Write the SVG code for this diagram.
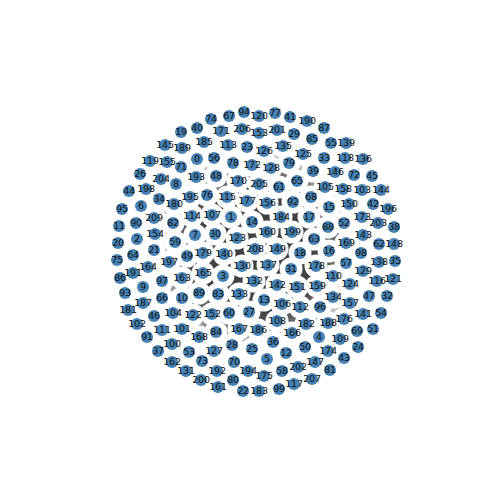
<svg xmlns="http://www.w3.org/2000/svg" width="500" height="500" viewBox="0 0 500 500">
<style>
.halo{fill:#fff}
.node circle{fill:#4682b4}
.node text{font-family:"DejaVu Sans",sans-serif;font-size:9.5px;fill:#111;text-anchor:middle;letter-spacing:-0.2px}
.edge{stroke:#505050;stroke-width:1;fill:none}
</style>
<defs>
<radialGradient id="mass" cx="256" cy="252" r="112" gradientUnits="userSpaceOnUse">
<stop offset="0" stop-color="#3e3e3e"/>
<stop offset="0.55" stop-color="#434343"/>
<stop offset="0.76" stop-color="#7a7a7a"/>
<stop offset="0.9" stop-color="#dcdcdc"/>
<stop offset="1" stop-color="#fff"/>
</radialGradient>
</defs>
<rect width="500" height="500" fill="#fff"/>
<g id="connectors">
<circle cx="256" cy="252" r="112" fill="url(#mass)"/>
<line class="edge" x1="146" y1="189" x2="174" y2="204"/>
<line class="edge" x1="161" y1="179" x2="176" y2="184"/>
<line class="edge" x1="182" y1="148" x2="204" y2="142"/>
<line class="edge" x1="196" y1="177" x2="216" y2="176"/>
<line class="edge" x1="306" y1="324" x2="328" y2="323"/>
<line class="edge" x1="328" y1="323" x2="344" y2="319"/>
<line class="edge" x1="319" y1="337" x2="328" y2="351"/>
<line class="edge" x1="182" y1="329" x2="199" y2="337"/>
<line class="edge" x1="172" y1="344" x2="189" y2="352"/>
<line class="edge" x1="333" y1="297" x2="350" y2="303"/>
<line class="edge" x1="303" y1="154" x2="324" y2="158"/>
<line class="edge" x1="335" y1="172" x2="345" y2="158"/>
<line class="edge" x1="228" y1="145" x2="247" y2="147"/>
<line class="edge" x1="189" y1="352" x2="202" y2="361"/>
</g>
<g id="halos">
<circle class="halo" cx="197" cy="159" r="11.5"/><circle class="halo" cx="231" cy="217" r="11.5"/><circle class="halo" cx="137" cy="239" r="11.5"/><circle class="halo" cx="223" cy="276" r="11.5"/><circle class="halo" cx="319" cy="337" r="11.5"/><circle class="halo" cx="267" cy="359" r="11.5"/><circle class="halo" cx="141" cy="206" r="11.5"/><circle class="halo" cx="195" cy="235" r="11.5"/><circle class="halo" cx="176" cy="184" r="11.5"/><circle class="halo" cx="143" cy="287" r="11.5"/>
<circle class="halo" cx="182" cy="298" r="11.5"/><circle class="halo" cx="119" cy="226" r="11.5"/><circle class="halo" cx="286" cy="353" r="11.5"/><circle class="halo" cx="264" cy="300" r="11.5"/><circle class="halo" cx="252" cy="222" r="11.5"/><circle class="halo" cx="329" cy="207" r="11.5"/><circle class="halo" cx="329" cy="251" r="11.5"/><circle class="halo" cx="309" cy="217" r="11.5"/><circle class="halo" cx="300" cy="253" r="11.5"/><circle class="halo" cx="181" cy="132" r="11.5"/>
<circle class="halo" cx="118" cy="243" r="11.5"/><circle class="halo" cx="154" cy="250" r="11.5"/><circle class="halo" cx="243" cy="391" r="11.5"/><circle class="halo" cx="247" cy="147" r="11.5"/><circle class="halo" cx="358" cy="347" r="11.5"/><circle class="halo" cx="252" cy="349" r="11.5"/><circle class="halo" cx="140" cy="174" r="11.5"/><circle class="halo" cx="249" cy="312" r="11.5"/><circle class="halo" cx="232" cy="345" r="11.5"/><circle class="halo" cx="294" cy="134" r="11.5"/>
<circle class="halo" cx="215" cy="234" r="11.5"/><circle class="halo" cx="291" cy="269" r="11.5"/><circle class="halo" cx="387" cy="296" r="11.5"/><circle class="halo" cx="324" cy="158" r="11.5"/><circle class="halo" cx="159" cy="199" r="11.5"/><circle class="halo" cx="395" cy="261" r="11.5"/><circle class="halo" cx="273" cy="342" r="11.5"/><circle class="halo" cx="158" cy="351" r="11.5"/><circle class="halo" cx="394" cy="227" r="11.5"/><circle class="halo" cx="313" cy="171" r="11.5"/>
<circle class="halo" cx="197" cy="128" r="11.5"/><circle class="halo" cx="290" cy="117" r="11.5"/><circle class="halo" cx="373" cy="204" r="11.5"/><circle class="halo" cx="344" cy="358" r="11.5"/><circle class="halo" cx="129" cy="191" r="11.5"/><circle class="halo" cx="372" cy="176" r="11.5"/><circle class="halo" cx="154" cy="316" r="11.5"/><circle class="halo" cx="369" cy="296" r="11.5"/><circle class="halo" cx="216" cy="176" r="11.5"/><circle class="halo" cx="187" cy="256" r="11.5"/>
<circle class="halo" cx="305" cy="347" r="11.5"/><circle class="halo" cx="373" cy="329" r="11.5"/><circle class="halo" cx="344" cy="223" r="11.5"/><circle class="halo" cx="189" cy="352" r="11.5"/><circle class="halo" cx="381" cy="313" r="11.5"/><circle class="halo" cx="331" cy="143" r="11.5"/><circle class="halo" cx="214" cy="158" r="11.5"/><circle class="halo" cx="346" cy="263" r="11.5"/><circle class="halo" cx="282" cy="371" r="11.5"/><circle class="halo" cx="175" cy="242" r="11.5"/>
<circle class="halo" cx="229" cy="313" r="11.5"/><circle class="halo" cx="279" cy="187" r="11.5"/><circle class="halo" cx="379" cy="244" r="11.5"/><circle class="halo" cx="314" cy="239" r="11.5"/><circle class="halo" cx="133" cy="255" r="11.5"/><circle class="halo" cx="297" cy="181" r="11.5"/><circle class="halo" cx="162" cy="298" r="11.5"/><circle class="halo" cx="229" cy="116" r="11.5"/><circle class="halo" cx="311" cy="197" r="11.5"/><circle class="halo" cx="357" cy="331" r="11.5"/>
<circle class="halo" cx="234" cy="362" r="11.5"/><circle class="halo" cx="181" cy="167" r="11.5"/><circle class="halo" cx="354" cy="175" r="11.5"/><circle class="halo" cx="202" cy="361" r="11.5"/><circle class="halo" cx="211" cy="119" r="11.5"/><circle class="halo" cx="117" cy="260" r="11.5"/><circle class="halo" cx="207" cy="195" r="11.5"/><circle class="halo" cx="275" cy="113" r="11.5"/><circle class="halo" cx="233" cy="163" r="11.5"/><circle class="halo" cx="289" cy="163" r="11.5"/>
<circle class="halo" cx="233" cy="380" r="11.5"/><circle class="halo" cx="330" cy="370" r="11.5"/><circle class="halo" cx="173" cy="223" r="11.5"/><circle class="halo" cx="218" cy="294" r="11.5"/><circle class="halo" cx="216" cy="332" r="11.5"/><circle class="halo" cx="312" cy="139" r="11.5"/><circle class="halo" cx="120" cy="278" r="11.5"/><circle class="halo" cx="324" cy="128" r="11.5"/><circle class="halo" cx="328" cy="227" r="11.5"/><circle class="halo" cx="199" cy="293" r="11.5"/>
<circle class="halo" cx="136" cy="223" r="11.5"/><circle class="halo" cx="147" cy="337" r="11.5"/><circle class="halo" cx="293" cy="202" r="11.5"/><circle class="halo" cx="125" cy="293" r="11.5"/><circle class="halo" cx="244" cy="112" r="11.5"/><circle class="halo" cx="122" cy="209" r="11.5"/><circle class="halo" cx="320" cy="307" r="11.5"/><circle class="halo" cx="162" cy="281" r="11.5"/><circle class="halo" cx="361" cy="253" r="11.5"/><circle class="halo" cx="279" cy="389" r="11.5"/>
<circle class="halo" cx="172" cy="344" r="11.5"/><circle class="halo" cx="182" cy="329" r="11.5"/><circle class="halo" cx="137" cy="324" r="11.5"/><circle class="halo" cx="362" cy="190" r="11.5"/><circle class="halo" cx="173" cy="313" r="11.5"/><circle class="halo" cx="325" cy="187" r="11.5"/><circle class="halo" cx="282" cy="304" r="11.5"/><circle class="halo" cx="212" cy="215" r="11.5"/><circle class="halo" cx="277" cy="321" r="11.5"/><circle class="halo" cx="340" cy="339" r="11.5"/>
<circle class="halo" cx="333" cy="276" r="11.5"/><circle class="halo" cx="162" cy="330" r="11.5"/><circle class="halo" cx="300" cy="307" r="11.5"/><circle class="halo" cx="228" cy="145" r="11.5"/><circle class="halo" cx="192" cy="216" r="11.5"/><circle class="halo" cx="227" cy="197" r="11.5"/><circle class="halo" cx="377" cy="281" r="11.5"/><circle class="halo" cx="294" cy="384" r="11.5"/><circle class="halo" cx="345" cy="158" r="11.5"/><circle class="halo" cx="150" cy="161" r="11.5"/>
<circle class="halo" cx="259" cy="116" r="11.5"/><circle class="halo" cx="393" cy="279" r="11.5"/><circle class="halo" cx="193" cy="315" r="11.5"/><circle class="halo" cx="237" cy="238" r="11.5"/><circle class="halo" cx="350" cy="284" r="11.5"/><circle class="halo" cx="303" cy="154" r="11.5"/><circle class="halo" cx="264" cy="151" r="11.5"/><circle class="halo" cx="214" cy="351" r="11.5"/><circle class="halo" cx="271" cy="168" r="11.5"/><circle class="halo" cx="363" cy="271" r="11.5"/>
<circle class="halo" cx="242" cy="266" r="11.5"/><circle class="halo" cx="186" cy="371" r="11.5"/><circle class="halo" cx="254" cy="281" r="11.5"/><circle class="halo" cx="239" cy="294" r="11.5"/><circle class="halo" cx="333" cy="297" r="11.5"/><circle class="halo" cx="283" cy="146" r="11.5"/><circle class="halo" cx="363" cy="159" r="11.5"/><circle class="halo" cx="268" cy="265" r="11.5"/><circle class="halo" cx="379" cy="262" r="11.5"/><circle class="halo" cx="346" cy="143" r="11.5"/>
<circle class="halo" cx="224" cy="254" r="11.5"/><circle class="halo" cx="363" cy="314" r="11.5"/><circle class="halo" cx="277" cy="285" r="11.5"/><circle class="halo" cx="363" cy="235" r="11.5"/><circle class="halo" cx="381" cy="190" r="11.5"/><circle class="halo" cx="165" cy="145" r="11.5"/><circle class="halo" cx="335" cy="172" r="11.5"/><circle class="halo" cx="315" cy="362" r="11.5"/><circle class="halo" cx="394" cy="244" r="11.5"/><circle class="halo" cx="277" cy="249" r="11.5"/>
<circle class="halo" cx="349" cy="204" r="11.5"/><circle class="halo" cx="297" cy="287" r="11.5"/><circle class="halo" cx="212" cy="314" r="11.5"/><circle class="halo" cx="259" cy="133" r="11.5"/><circle class="halo" cx="155" cy="234" r="11.5"/><circle class="halo" cx="167" cy="162" r="11.5"/><circle class="halo" cx="267" cy="203" r="11.5"/><circle class="halo" cx="350" cy="303" r="11.5"/><circle class="halo" cx="343" cy="189" r="11.5"/><circle class="halo" cx="317" cy="286" r="11.5"/>
<circle class="halo" cx="267" cy="232" r="11.5"/><circle class="halo" cx="218" cy="387" r="11.5"/><circle class="halo" cx="172" cy="362" r="11.5"/><circle class="halo" cx="182" cy="278" r="11.5"/><circle class="halo" cx="148" cy="267" r="11.5"/><circle class="halo" cx="203" cy="273" r="11.5"/><circle class="halo" cx="292" cy="333" r="11.5"/><circle class="halo" cx="239" cy="329" r="11.5"/><circle class="halo" cx="199" cy="337" r="11.5"/><circle class="halo" cx="346" cy="243" r="11.5"/>
<circle class="halo" cx="238" cy="181" r="11.5"/><circle class="halo" cx="221" cy="131" r="11.5"/><circle class="halo" cx="252" cy="165" r="11.5"/><circle class="halo" cx="362" cy="217" r="11.5"/><circle class="halo" cx="328" cy="351" r="11.5"/><circle class="halo" cx="264" cy="376" r="11.5"/><circle class="halo" cx="344" cy="319" r="11.5"/><circle class="halo" cx="247" cy="201" r="11.5"/><circle class="halo" cx="316" cy="266" r="11.5"/><circle class="halo" cx="203" cy="253" r="11.5"/>
<circle class="halo" cx="174" cy="204" r="11.5"/><circle class="halo" cx="128" cy="310" r="11.5"/><circle class="halo" cx="306" cy="324" r="11.5"/><circle class="halo" cx="259" cy="391" r="11.5"/><circle class="halo" cx="281" cy="217" r="11.5"/><circle class="halo" cx="204" cy="142" r="11.5"/><circle class="halo" cx="258" cy="330" r="11.5"/><circle class="halo" cx="143" cy="303" r="11.5"/><circle class="halo" cx="328" cy="323" r="11.5"/><circle class="halo" cx="182" cy="148" r="11.5"/>
<circle class="halo" cx="307" cy="121" r="11.5"/><circle class="halo" cx="133" cy="273" r="11.5"/><circle class="halo" cx="217" cy="371" r="11.5"/><circle class="halo" cx="196" cy="177" r="11.5"/><circle class="halo" cx="248" cy="371" r="11.5"/><circle class="halo" cx="190" cy="197" r="11.5"/><circle class="halo" cx="388" cy="209" r="11.5"/><circle class="halo" cx="169" cy="262" r="11.5"/><circle class="halo" cx="146" cy="189" r="11.5"/><circle class="halo" cx="292" cy="232" r="11.5"/>
<circle class="halo" cx="201" cy="380" r="11.5"/><circle class="halo" cx="277" cy="130" r="11.5"/><circle class="halo" cx="298" cy="367" r="11.5"/><circle class="halo" cx="378" cy="223" r="11.5"/><circle class="halo" cx="161" cy="179" r="11.5"/><circle class="halo" cx="259" cy="184" r="11.5"/><circle class="halo" cx="242" cy="129" r="11.5"/><circle class="halo" cx="312" cy="379" r="11.5"/><circle class="halo" cx="255" cy="249" r="11.5"/><circle class="halo" cx="154" cy="218" r="11.5"/>
</g>
<g id="nodes">
<g id="n0" class="node"><circle cx="197" cy="159" r="6"/><text x="197" y="159" dy="0.35em">0</text></g>
<g id="n1" class="node"><circle cx="231" cy="217" r="6"/><text x="231" y="217" dy="0.35em">1</text></g>
<g id="n2" class="node"><circle cx="137" cy="239" r="6"/><text x="137" y="239" dy="0.35em">2</text></g>
<g id="n3" class="node"><circle cx="223" cy="276" r="6"/><text x="223" y="276" dy="0.35em">3</text></g>
<g id="n4" class="node"><circle cx="319" cy="337" r="6"/><text x="319" y="337" dy="0.35em">4</text></g>
<g id="n5" class="node"><circle cx="267" cy="359" r="6"/><text x="267" y="359" dy="0.35em">5</text></g>
<g id="n6" class="node"><circle cx="141" cy="206" r="6"/><text x="141" y="206" dy="0.35em">6</text></g>
<g id="n7" class="node"><circle cx="195" cy="235" r="6"/><text x="195" y="235" dy="0.35em">7</text></g>
<g id="n8" class="node"><circle cx="176" cy="184" r="6"/><text x="176" y="184" dy="0.35em">8</text></g>
<g id="n9" class="node"><circle cx="143" cy="287" r="6"/><text x="143" y="287" dy="0.35em">9</text></g>
<g id="n10" class="node"><circle cx="182" cy="298" r="6"/><text x="182" y="298" dy="0.35em">10</text></g>
<g id="n11" class="node"><circle cx="119" cy="226" r="6"/><text x="119" y="226" dy="0.35em">11</text></g>
<g id="n12" class="node"><circle cx="286" cy="353" r="6"/><text x="286" y="353" dy="0.35em">12</text></g>
<g id="n13" class="node"><circle cx="264" cy="300" r="6"/><text x="264" y="300" dy="0.35em">13</text></g>
<g id="n14" class="node"><circle cx="252" cy="222" r="6"/><text x="252" y="222" dy="0.35em">14</text></g>
<g id="n15" class="node"><circle cx="329" cy="207" r="6"/><text x="329" y="207" dy="0.35em">15</text></g>
<g id="n16" class="node"><circle cx="329" cy="251" r="6"/><text x="329" y="251" dy="0.35em">16</text></g>
<g id="n17" class="node"><circle cx="309" cy="217" r="6"/><text x="309" y="217" dy="0.35em">17</text></g>
<g id="n18" class="node"><circle cx="300" cy="253" r="6"/><text x="300" y="253" dy="0.35em">18</text></g>
<g id="n19" class="node"><circle cx="181" cy="132" r="6"/><text x="181" y="132" dy="0.35em">19</text></g>
<g id="n20" class="node"><circle cx="118" cy="243" r="6"/><text x="118" y="243" dy="0.35em">20</text></g>
<g id="n21" class="node"><circle cx="154" cy="250" r="6"/><text x="154" y="250" dy="0.35em">21</text></g>
<g id="n22" class="node"><circle cx="243" cy="391" r="6"/><text x="243" y="391" dy="0.35em">22</text></g>
<g id="n23" class="node"><circle cx="247" cy="147" r="6"/><text x="247" y="147" dy="0.35em">23</text></g>
<g id="n24" class="node"><circle cx="358" cy="347" r="6"/><text x="358" y="347" dy="0.35em">24</text></g>
<g id="n25" class="node"><circle cx="252" cy="349" r="6"/><text x="252" y="349" dy="0.35em">25</text></g>
<g id="n26" class="node"><circle cx="140" cy="174" r="6"/><text x="140" y="174" dy="0.35em">26</text></g>
<g id="n27" class="node"><circle cx="249" cy="312" r="6"/><text x="249" y="312" dy="0.35em">27</text></g>
<g id="n28" class="node"><circle cx="232" cy="345" r="6"/><text x="232" y="345" dy="0.35em">28</text></g>
<g id="n29" class="node"><circle cx="294" cy="134" r="6"/><text x="294" y="134" dy="0.35em">29</text></g>
<g id="n30" class="node"><circle cx="215" cy="234" r="6"/><text x="215" y="234" dy="0.35em">30</text></g>
<g id="n31" class="node"><circle cx="291" cy="269" r="6"/><text x="291" y="269" dy="0.35em">31</text></g>
<g id="n32" class="node"><circle cx="387" cy="296" r="6"/><text x="387" y="296" dy="0.35em">32</text></g>
<g id="n33" class="node"><circle cx="324" cy="158" r="6"/><text x="324" y="158" dy="0.35em">33</text></g>
<g id="n34" class="node"><circle cx="159" cy="199" r="6"/><text x="159" y="199" dy="0.35em">34</text></g>
<g id="n35" class="node"><circle cx="395" cy="261" r="6"/><text x="395" y="261" dy="0.35em">35</text></g>
<g id="n36" class="node"><circle cx="273" cy="342" r="6"/><text x="273" y="342" dy="0.35em">36</text></g>
<g id="n37" class="node"><circle cx="158" cy="351" r="6"/><text x="158" y="351" dy="0.35em">37</text></g>
<g id="n38" class="node"><circle cx="394" cy="227" r="6"/><text x="394" y="227" dy="0.35em">38</text></g>
<g id="n39" class="node"><circle cx="313" cy="171" r="6"/><text x="313" y="171" dy="0.35em">39</text></g>
<g id="n40" class="node"><circle cx="197" cy="128" r="6"/><text x="197" y="128" dy="0.35em">40</text></g>
<g id="n41" class="node"><circle cx="290" cy="117" r="6"/><text x="290" y="117" dy="0.35em">41</text></g>
<g id="n42" class="node"><circle cx="373" cy="204" r="6"/><text x="373" y="204" dy="0.35em">42</text></g>
<g id="n43" class="node"><circle cx="344" cy="358" r="6"/><text x="344" y="358" dy="0.35em">43</text></g>
<g id="n44" class="node"><circle cx="129" cy="191" r="6"/><text x="129" y="191" dy="0.35em">44</text></g>
<g id="n45" class="node"><circle cx="372" cy="176" r="6"/><text x="372" y="176" dy="0.35em">45</text></g>
<g id="n46" class="node"><circle cx="154" cy="316" r="6"/><text x="154" y="316" dy="0.35em">46</text></g>
<g id="n47" class="node"><circle cx="369" cy="296" r="6"/><text x="369" y="296" dy="0.35em">47</text></g>
<g id="n48" class="node"><circle cx="216" cy="176" r="6"/><text x="216" y="176" dy="0.35em">48</text></g>
<g id="n49" class="node"><circle cx="187" cy="256" r="6"/><text x="187" y="256" dy="0.35em">49</text></g>
<g id="n50" class="node"><circle cx="305" cy="347" r="6"/><text x="305" y="347" dy="0.35em">50</text></g>
<g id="n51" class="node"><circle cx="373" cy="329" r="6"/><text x="373" y="329" dy="0.35em">51</text></g>
<g id="n52" class="node"><circle cx="344" cy="223" r="6"/><text x="344" y="223" dy="0.35em">52</text></g>
<g id="n53" class="node"><circle cx="189" cy="352" r="6"/><text x="189" y="352" dy="0.35em">53</text></g>
<g id="n54" class="node"><circle cx="381" cy="313" r="6"/><text x="381" y="313" dy="0.35em">54</text></g>
<g id="n55" class="node"><circle cx="331" cy="143" r="6"/><text x="331" y="143" dy="0.35em">55</text></g>
<g id="n56" class="node"><circle cx="214" cy="158" r="6"/><text x="214" y="158" dy="0.35em">56</text></g>
<g id="n57" class="node"><circle cx="346" cy="263" r="6"/><text x="346" y="263" dy="0.35em">57</text></g>
<g id="n58" class="node"><circle cx="282" cy="371" r="6"/><text x="282" y="371" dy="0.35em">58</text></g>
<g id="n59" class="node"><circle cx="175" cy="242" r="6"/><text x="175" y="242" dy="0.35em">59</text></g>
<g id="n60" class="node"><circle cx="229" cy="313" r="6"/><text x="229" y="313" dy="0.35em">60</text></g>
<g id="n61" class="node"><circle cx="279" cy="187" r="6"/><text x="279" y="187" dy="0.35em">61</text></g>
<g id="n62" class="node"><circle cx="379" cy="244" r="6"/><text x="379" y="244" dy="0.35em">62</text></g>
<g id="n63" class="node"><circle cx="314" cy="239" r="6"/><text x="314" y="239" dy="0.35em">63</text></g>
<g id="n64" class="node"><circle cx="133" cy="255" r="6"/><text x="133" y="255" dy="0.35em">64</text></g>
<g id="n65" class="node"><circle cx="297" cy="181" r="6"/><text x="297" y="181" dy="0.35em">65</text></g>
<g id="n66" class="node"><circle cx="162" cy="298" r="6"/><text x="162" y="298" dy="0.35em">66</text></g>
<g id="n67" class="node"><circle cx="229" cy="116" r="6"/><text x="229" y="116" dy="0.35em">67</text></g>
<g id="n68" class="node"><circle cx="311" cy="197" r="6"/><text x="311" y="197" dy="0.35em">68</text></g>
<g id="n69" class="node"><circle cx="357" cy="331" r="6"/><text x="357" y="331" dy="0.35em">69</text></g>
<g id="n70" class="node"><circle cx="234" cy="362" r="6"/><text x="234" y="362" dy="0.35em">70</text></g>
<g id="n71" class="node"><circle cx="181" cy="167" r="6"/><text x="181" y="167" dy="0.35em">71</text></g>
<g id="n72" class="node"><circle cx="354" cy="175" r="6"/><text x="354" y="175" dy="0.35em">72</text></g>
<g id="n73" class="node"><circle cx="202" cy="361" r="6"/><text x="202" y="361" dy="0.35em">73</text></g>
<g id="n74" class="node"><circle cx="211" cy="119" r="6"/><text x="211" y="119" dy="0.35em">74</text></g>
<g id="n75" class="node"><circle cx="117" cy="260" r="6"/><text x="117" y="260" dy="0.35em">75</text></g>
<g id="n76" class="node"><circle cx="207" cy="195" r="6"/><text x="207" y="195" dy="0.35em">76</text></g>
<g id="n77" class="node"><circle cx="275" cy="113" r="6"/><text x="275" y="113" dy="0.35em">77</text></g>
<g id="n78" class="node"><circle cx="233" cy="163" r="6"/><text x="233" y="163" dy="0.35em">78</text></g>
<g id="n79" class="node"><circle cx="289" cy="163" r="6"/><text x="289" y="163" dy="0.35em">79</text></g>
<g id="n80" class="node"><circle cx="233" cy="380" r="6"/><text x="233" y="380" dy="0.35em">80</text></g>
<g id="n81" class="node"><circle cx="330" cy="370" r="6"/><text x="330" y="370" dy="0.35em">81</text></g>
<g id="n82" class="node"><circle cx="173" cy="223" r="6"/><text x="173" y="223" dy="0.35em">82</text></g>
<g id="n83" class="node"><circle cx="218" cy="294" r="6"/><text x="218" y="294" dy="0.35em">83</text></g>
<g id="n84" class="node"><circle cx="216" cy="332" r="6"/><text x="216" y="332" dy="0.35em">84</text></g>
<g id="n85" class="node"><circle cx="312" cy="139" r="6"/><text x="312" y="139" dy="0.35em">85</text></g>
<g id="n86" class="node"><circle cx="120" cy="278" r="6"/><text x="120" y="278" dy="0.35em">86</text></g>
<g id="n87" class="node"><circle cx="324" cy="128" r="6"/><text x="324" y="128" dy="0.35em">87</text></g>
<g id="n88" class="node"><circle cx="328" cy="227" r="6"/><text x="328" y="227" dy="0.35em">88</text></g>
<g id="n89" class="node"><circle cx="199" cy="293" r="6"/><text x="199" y="293" dy="0.35em">89</text></g>
<g id="n90" class="node"><circle cx="136" cy="223" r="6"/><text x="136" y="223" dy="0.35em">90</text></g>
<g id="n91" class="node"><circle cx="147" cy="337" r="6"/><text x="147" y="337" dy="0.35em">91</text></g>
<g id="n92" class="node"><circle cx="293" cy="202" r="6"/><text x="293" y="202" dy="0.35em">92</text></g>
<g id="n93" class="node"><circle cx="125" cy="293" r="6"/><text x="125" y="293" dy="0.35em">93</text></g>
<g id="n94" class="node"><circle cx="244" cy="112" r="6"/><text x="244" y="112" dy="0.35em">94</text></g>
<g id="n95" class="node"><circle cx="122" cy="209" r="6"/><text x="122" y="209" dy="0.35em">95</text></g>
<g id="n96" class="node"><circle cx="320" cy="307" r="6"/><text x="320" y="307" dy="0.35em">96</text></g>
<g id="n97" class="node"><circle cx="162" cy="281" r="6"/><text x="162" y="281" dy="0.35em">97</text></g>
<g id="n98" class="node"><circle cx="361" cy="253" r="6"/><text x="361" y="253" dy="0.35em">98</text></g>
<g id="n99" class="node"><circle cx="279" cy="389" r="6"/><text x="279" y="389" dy="0.35em">99</text></g>
<g id="n100" class="node"><circle cx="172" cy="344" r="6"/><text x="172" y="344" dy="0.35em">100</text></g>
<g id="n101" class="node"><circle cx="182" cy="329" r="6"/><text x="182" y="329" dy="0.35em">101</text></g>
<g id="n102" class="node"><circle cx="137" cy="324" r="6"/><text x="137" y="324" dy="0.35em">102</text></g>
<g id="n103" class="node"><circle cx="362" cy="190" r="6"/><text x="362" y="190" dy="0.35em">103</text></g>
<g id="n104" class="node"><circle cx="173" cy="313" r="6"/><text x="173" y="313" dy="0.35em">104</text></g>
<g id="n105" class="node"><circle cx="325" cy="187" r="6"/><text x="325" y="187" dy="0.35em">105</text></g>
<g id="n106" class="node"><circle cx="282" cy="304" r="6"/><text x="282" y="304" dy="0.35em">106</text></g>
<g id="n107" class="node"><circle cx="212" cy="215" r="6"/><text x="212" y="215" dy="0.35em">107</text></g>
<g id="n108" class="node"><circle cx="277" cy="321" r="6"/><text x="277" y="321" dy="0.35em">108</text></g>
<g id="n109" class="node"><circle cx="340" cy="339" r="6"/><text x="340" y="339" dy="0.35em">109</text></g>
<g id="n110" class="node"><circle cx="333" cy="276" r="6"/><text x="333" y="276" dy="0.35em">110</text></g>
<g id="n111" class="node"><circle cx="162" cy="330" r="6"/><text x="162" y="330" dy="0.35em">111</text></g>
<g id="n112" class="node"><circle cx="300" cy="307" r="6"/><text x="300" y="307" dy="0.35em">112</text></g>
<g id="n113" class="node"><circle cx="228" cy="145" r="6"/><text x="228" y="145" dy="0.35em">113</text></g>
<g id="n114" class="node"><circle cx="192" cy="216" r="6"/><text x="192" y="216" dy="0.35em">114</text></g>
<g id="n115" class="node"><circle cx="227" cy="197" r="6"/><text x="227" y="197" dy="0.35em">115</text></g>
<g id="n116" class="node"><circle cx="377" cy="281" r="6"/><text x="377" y="281" dy="0.35em">116</text></g>
<g id="n117" class="node"><circle cx="294" cy="384" r="6"/><text x="294" y="384" dy="0.35em">117</text></g>
<g id="n118" class="node"><circle cx="345" cy="158" r="6"/><text x="345" y="158" dy="0.35em">118</text></g>
<g id="n119" class="node"><circle cx="150" cy="161" r="6"/><text x="150" y="161" dy="0.35em">119</text></g>
<g id="n120" class="node"><circle cx="259" cy="116" r="6"/><text x="259" y="116" dy="0.35em">120</text></g>
<g id="n121" class="node"><circle cx="393" cy="279" r="6"/><text x="393" y="279" dy="0.35em">121</text></g>
<g id="n122" class="node"><circle cx="193" cy="315" r="6"/><text x="193" y="315" dy="0.35em">122</text></g>
<g id="n123" class="node"><circle cx="237" cy="238" r="6"/><text x="237" y="238" dy="0.35em">123</text></g>
<g id="n124" class="node"><circle cx="350" cy="284" r="6"/><text x="350" y="284" dy="0.35em">124</text></g>
<g id="n125" class="node"><circle cx="303" cy="154" r="6"/><text x="303" y="154" dy="0.35em">125</text></g>
<g id="n126" class="node"><circle cx="264" cy="151" r="6"/><text x="264" y="151" dy="0.35em">126</text></g>
<g id="n127" class="node"><circle cx="214" cy="351" r="6"/><text x="214" y="351" dy="0.35em">127</text></g>
<g id="n128" class="node"><circle cx="271" cy="168" r="6"/><text x="271" y="168" dy="0.35em">128</text></g>
<g id="n129" class="node"><circle cx="363" cy="271" r="6"/><text x="363" y="271" dy="0.35em">129</text></g>
<g id="n130" class="node"><circle cx="242" cy="266" r="6"/><text x="242" y="266" dy="0.35em">130</text></g>
<g id="n131" class="node"><circle cx="186" cy="371" r="6"/><text x="186" y="371" dy="0.35em">131</text></g>
<g id="n132" class="node"><circle cx="254" cy="281" r="6"/><text x="254" y="281" dy="0.35em">132</text></g>
<g id="n133" class="node"><circle cx="239" cy="294" r="6"/><text x="239" y="294" dy="0.35em">133</text></g>
<g id="n134" class="node"><circle cx="333" cy="297" r="6"/><text x="333" y="297" dy="0.35em">134</text></g>
<g id="n135" class="node"><circle cx="283" cy="146" r="6"/><text x="283" y="146" dy="0.35em">135</text></g>
<g id="n136" class="node"><circle cx="363" cy="159" r="6"/><text x="363" y="159" dy="0.35em">136</text></g>
<g id="n137" class="node"><circle cx="268" cy="265" r="6"/><text x="268" y="265" dy="0.35em">137</text></g>
<g id="n138" class="node"><circle cx="379" cy="262" r="6"/><text x="379" y="262" dy="0.35em">138</text></g>
<g id="n139" class="node"><circle cx="346" cy="143" r="6"/><text x="346" y="143" dy="0.35em">139</text></g>
<g id="n140" class="node"><circle cx="224" cy="254" r="6"/><text x="224" y="254" dy="0.35em">140</text></g>
<g id="n141" class="node"><circle cx="363" cy="314" r="6"/><text x="363" y="314" dy="0.35em">141</text></g>
<g id="n142" class="node"><circle cx="277" cy="285" r="6"/><text x="277" y="285" dy="0.35em">142</text></g>
<g id="n143" class="node"><circle cx="363" cy="235" r="6"/><text x="363" y="235" dy="0.35em">143</text></g>
<g id="n144" class="node"><circle cx="381" cy="190" r="6"/><text x="381" y="190" dy="0.35em">144</text></g>
<g id="n145" class="node"><circle cx="165" cy="145" r="6"/><text x="165" y="145" dy="0.35em">145</text></g>
<g id="n146" class="node"><circle cx="335" cy="172" r="6"/><text x="335" y="172" dy="0.35em">146</text></g>
<g id="n147" class="node"><circle cx="315" cy="362" r="6"/><text x="315" y="362" dy="0.35em">147</text></g>
<g id="n148" class="node"><circle cx="394" cy="244" r="6"/><text x="394" y="244" dy="0.35em">148</text></g>
<g id="n149" class="node"><circle cx="277" cy="249" r="6"/><text x="277" y="249" dy="0.35em">149</text></g>
<g id="n150" class="node"><circle cx="349" cy="204" r="6"/><text x="349" y="204" dy="0.35em">150</text></g>
<g id="n151" class="node"><circle cx="297" cy="287" r="6"/><text x="297" y="287" dy="0.35em">151</text></g>
<g id="n152" class="node"><circle cx="212" cy="314" r="6"/><text x="212" y="314" dy="0.35em">152</text></g>
<g id="n153" class="node"><circle cx="259" cy="133" r="6"/><text x="259" y="133" dy="0.35em">153</text></g>
<g id="n154" class="node"><circle cx="155" cy="234" r="6"/><text x="155" y="234" dy="0.35em">154</text></g>
<g id="n155" class="node"><circle cx="167" cy="162" r="6"/><text x="167" y="162" dy="0.35em">155</text></g>
<g id="n156" class="node"><circle cx="267" cy="203" r="6"/><text x="267" y="203" dy="0.35em">156</text></g>
<g id="n157" class="node"><circle cx="350" cy="303" r="6"/><text x="350" y="303" dy="0.35em">157</text></g>
<g id="n158" class="node"><circle cx="343" cy="189" r="6"/><text x="343" y="189" dy="0.35em">158</text></g>
<g id="n159" class="node"><circle cx="317" cy="286" r="6"/><text x="317" y="286" dy="0.35em">159</text></g>
<g id="n160" class="node"><circle cx="267" cy="232" r="6"/><text x="267" y="232" dy="0.35em">160</text></g>
<g id="n161" class="node"><circle cx="218" cy="387" r="6"/><text x="218" y="387" dy="0.35em">161</text></g>
<g id="n162" class="node"><circle cx="172" cy="362" r="6"/><text x="172" y="362" dy="0.35em">162</text></g>
<g id="n163" class="node"><circle cx="182" cy="278" r="6"/><text x="182" y="278" dy="0.35em">163</text></g>
<g id="n164" class="node"><circle cx="148" cy="267" r="6"/><text x="148" y="267" dy="0.35em">164</text></g>
<g id="n165" class="node"><circle cx="203" cy="273" r="6"/><text x="203" y="273" dy="0.35em">165</text></g>
<g id="n166" class="node"><circle cx="292" cy="333" r="6"/><text x="292" y="333" dy="0.35em">166</text></g>
<g id="n167" class="node"><circle cx="239" cy="329" r="6"/><text x="239" y="329" dy="0.35em">167</text></g>
<g id="n168" class="node"><circle cx="199" cy="337" r="6"/><text x="199" y="337" dy="0.35em">168</text></g>
<g id="n169" class="node"><circle cx="346" cy="243" r="6"/><text x="346" y="243" dy="0.35em">169</text></g>
<g id="n170" class="node"><circle cx="238" cy="181" r="6"/><text x="238" y="181" dy="0.35em">170</text></g>
<g id="n171" class="node"><circle cx="221" cy="131" r="6"/><text x="221" y="131" dy="0.35em">171</text></g>
<g id="n172" class="node"><circle cx="252" cy="165" r="6"/><text x="252" y="165" dy="0.35em">172</text></g>
<g id="n173" class="node"><circle cx="362" cy="217" r="6"/><text x="362" y="217" dy="0.35em">173</text></g>
<g id="n174" class="node"><circle cx="328" cy="351" r="6"/><text x="328" y="351" dy="0.35em">174</text></g>
<g id="n175" class="node"><circle cx="264" cy="376" r="6"/><text x="264" y="376" dy="0.35em">175</text></g>
<g id="n176" class="node"><circle cx="344" cy="319" r="6"/><text x="344" y="319" dy="0.35em">176</text></g>
<g id="n177" class="node"><circle cx="247" cy="201" r="6"/><text x="247" y="201" dy="0.35em">177</text></g>
<g id="n178" class="node"><circle cx="316" cy="266" r="6"/><text x="316" y="266" dy="0.35em">178</text></g>
<g id="n179" class="node"><circle cx="203" cy="253" r="6"/><text x="203" y="253" dy="0.35em">179</text></g>
<g id="n180" class="node"><circle cx="174" cy="204" r="6"/><text x="174" y="204" dy="0.35em">180</text></g>
<g id="n181" class="node"><circle cx="128" cy="310" r="6"/><text x="128" y="310" dy="0.35em">181</text></g>
<g id="n182" class="node"><circle cx="306" cy="324" r="6"/><text x="306" y="324" dy="0.35em">182</text></g>
<g id="n183" class="node"><circle cx="259" cy="391" r="6"/><text x="259" y="391" dy="0.35em">183</text></g>
<g id="n184" class="node"><circle cx="281" cy="217" r="6"/><text x="281" y="217" dy="0.35em">184</text></g>
<g id="n185" class="node"><circle cx="204" cy="142" r="6"/><text x="204" y="142" dy="0.35em">185</text></g>
<g id="n186" class="node"><circle cx="258" cy="330" r="6"/><text x="258" y="330" dy="0.35em">186</text></g>
<g id="n187" class="node"><circle cx="143" cy="303" r="6"/><text x="143" y="303" dy="0.35em">187</text></g>
<g id="n188" class="node"><circle cx="328" cy="323" r="6"/><text x="328" y="323" dy="0.35em">188</text></g>
<g id="n189" class="node"><circle cx="182" cy="148" r="6"/><text x="182" y="148" dy="0.35em">189</text></g>
<g id="n190" class="node"><circle cx="307" cy="121" r="6"/><text x="307" y="121" dy="0.35em">190</text></g>
<g id="n191" class="node"><circle cx="133" cy="273" r="6"/><text x="133" y="273" dy="0.35em">191</text></g>
<g id="n192" class="node"><circle cx="217" cy="371" r="6"/><text x="217" y="371" dy="0.35em">192</text></g>
<g id="n193" class="node"><circle cx="196" cy="177" r="6"/><text x="196" y="177" dy="0.35em">193</text></g>
<g id="n194" class="node"><circle cx="248" cy="371" r="6"/><text x="248" y="371" dy="0.35em">194</text></g>
<g id="n195" class="node"><circle cx="190" cy="197" r="6"/><text x="190" y="197" dy="0.35em">195</text></g>
<g id="n196" class="node"><circle cx="388" cy="209" r="6"/><text x="388" y="209" dy="0.35em">196</text></g>
<g id="n197" class="node"><circle cx="169" cy="262" r="6"/><text x="169" y="262" dy="0.35em">197</text></g>
<g id="n198" class="node"><circle cx="146" cy="189" r="6"/><text x="146" y="189" dy="0.35em">198</text></g>
<g id="n199" class="node"><circle cx="292" cy="232" r="6"/><text x="292" y="232" dy="0.35em">199</text></g>
<g id="n200" class="node"><circle cx="201" cy="380" r="6"/><text x="201" y="380" dy="0.35em">200</text></g>
<g id="n201" class="node"><circle cx="277" cy="130" r="6"/><text x="277" y="130" dy="0.35em">201</text></g>
<g id="n202" class="node"><circle cx="298" cy="367" r="6"/><text x="298" y="367" dy="0.35em">202</text></g>
<g id="n203" class="node"><circle cx="378" cy="223" r="6"/><text x="378" y="223" dy="0.35em">203</text></g>
<g id="n204" class="node"><circle cx="161" cy="179" r="6"/><text x="161" y="179" dy="0.35em">204</text></g>
<g id="n205" class="node"><circle cx="259" cy="184" r="6"/><text x="259" y="184" dy="0.35em">205</text></g>
<g id="n206" class="node"><circle cx="242" cy="129" r="6"/><text x="242" y="129" dy="0.35em">206</text></g>
<g id="n207" class="node"><circle cx="312" cy="379" r="6"/><text x="312" y="379" dy="0.35em">207</text></g>
<g id="n208" class="node"><circle cx="255" cy="249" r="6"/><text x="255" y="249" dy="0.35em">208</text></g>
<g id="n209" class="node"><circle cx="154" cy="218" r="6"/><text x="154" y="218" dy="0.35em">209</text></g>
</g>
</svg>
